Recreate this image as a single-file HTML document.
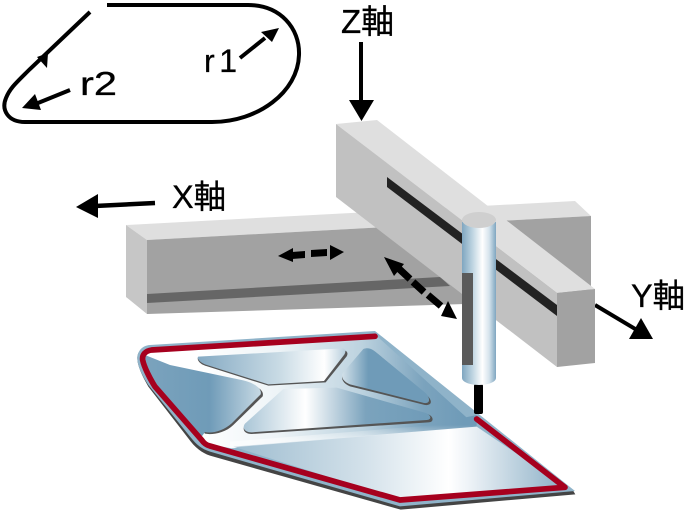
<!DOCTYPE html>
<html><head><meta charset="utf-8">
<style>html,body{margin:0;padding:0;background:#fff;width:690px;height:512px;overflow:hidden}svg{display:block}
text{font-family:"Liberation Sans","Noto Sans CJK JP",sans-serif;fill:#000;stroke:#000;stroke-width:.3}</style></head>
<body>
<svg width="690" height="512" viewBox="0 0 690 512" xmlns="http://www.w3.org/2000/svg">
<defs>
<linearGradient id="cyl" gradientUnits="userSpaceOnUse" x1="462" y1="0" x2="496" y2="0">
<stop offset="0" stop-color="#7fa6c0"/><stop offset=".3" stop-color="#bcd3e0"/><stop offset=".6" stop-color="#ffffff"/><stop offset=".8" stop-color="#d5e3ec"/><stop offset="1" stop-color="#7fa6c0"/></linearGradient>
<linearGradient id="plate" gradientUnits="userSpaceOnUse" x1="200" y1="0" x2="1000" y2="0">
<stop offset="0" stop-color="#ffffff"/><stop offset=".3" stop-color="#eef4f7"/><stop offset=".62" stop-color="#bcd2df"/><stop offset=".85" stop-color="#7ba3bd"/><stop offset="1" stop-color="#6f9bb8"/></linearGradient>
<linearGradient id="flat" gradientUnits="userSpaceOnUse" x1="310" y1="0" x2="1290" y2="0">
<stop offset="0" stop-color="#9dbccf"/><stop offset=".4" stop-color="#d3e1ea"/><stop offset=".66" stop-color="#ffffff"/><stop offset=".72" stop-color="#eef3f7"/><stop offset="1" stop-color="#8fb2c8"/></linearGradient>
<linearGradient id="fade" gradientUnits="userSpaceOnUse" x1="0" y1="300" x2="0" y2="345">
<stop offset="0" stop-color="#fff" stop-opacity="0"/><stop offset="1" stop-color="#fff" stop-opacity=".55"/></linearGradient>
<linearGradient id="p1" gradientUnits="userSpaceOnUse" x1="205" y1="0" x2="650" y2="0">
<stop offset="0" stop-color="#85aac3"/><stop offset=".55" stop-color="#c9dbe5"/><stop offset=".85" stop-color="#ffffff"/><stop offset="1" stop-color="#b4ccdb"/></linearGradient>
<linearGradient id="p2" gradientUnits="userSpaceOnUse" x1="635" y1="0" x2="900" y2="0">
<stop offset="0" stop-color="#d4e2ea"/><stop offset=".3" stop-color="#6f9bb8"/><stop offset="1" stop-color="#6f9bb8"/></linearGradient>
<linearGradient id="p3" gradientUnits="userSpaceOnUse" x1="40" y1="0" x2="400" y2="0">
<stop offset="0" stop-color="#7ba3bd"/><stop offset=".55" stop-color="#6f9bb8"/><stop offset="1" stop-color="#cbdce6"/></linearGradient>
<linearGradient id="p4" gradientUnits="userSpaceOnUse" x1="340" y1="0" x2="905" y2="0">
<stop offset="0" stop-color="#a9c5d6"/><stop offset=".33" stop-color="#ffffff"/><stop offset=".65" stop-color="#7ba3bd"/><stop offset="1" stop-color="#6f9bb8"/></linearGradient>
</defs>

<!-- track diagram -->
<path d="M107 5H248C280 5 300 28 299 55C298 92 258 122 212 122H25C8 122 1 110 6 98C10 88 16 83 30 69L90 12" fill="none" stroke="#000" stroke-width="4"/>
<polygon points="48,53 37,57 47,68" fill="#000"/>
<path d="M240 58L265 38" stroke="#000" stroke-width="4" fill="none"/>
<polygon points="279,28 272,42 261,32" fill="#000"/>
<path d="M70 90L38 103" stroke="#000" stroke-width="4" fill="none"/>
<polygon points="22,108 35,94 41,110" fill="#000"/>
<text x="204" y="72" font-size="32" textLength="33" lengthAdjust="spacing">r 1</text>
<text x="80" y="95" font-size="33" textLength="37" lengthAdjust="spacingAndGlyphs">r2</text>

<!-- axes -->
<text x="341" y="33" font-size="33">Z軸</text>
<text x="172" y="208" font-size="32.500">X軸</text>
<text x="631" y="307" font-size="32.500">Y軸</text>
<path d="M361 42V102" stroke="#000" stroke-width="4"/>
<polygon points="349,100 374,100 361.500,121" fill="#000"/>
<path d="M155 203L95 206" stroke="#000" stroke-width="4.500"/>
<polygon points="76,207 98,194 98,218" fill="#000"/>
<path d="M595 305L637 330" stroke="#000" stroke-width="4"/>
<polygon points="641,318 629,339 653,339" fill="#000"/>

<!-- X beam -->
<polygon points="126,225 575,201 591,216 147,240" fill="#dfdfdf"/>
<polygon points="126,225 147,240 147,314 126,297" fill="#c6c6c6"/>
<polygon points="147,240 591,216 591,300 147,314" fill="#a2a2a2"/>
<polygon points="147,294 440,277 450,286 147,303" fill="#666"/>

<!-- Z beam -->
<polygon points="336,124 377,120 595,289 557,293" fill="#dfdfdf"/>
<polygon points="336,124 557,293 557,367 336,197" fill="#c1c1c1"/>
<polygon points="557,293 595,289 595,363 557,367" fill="#a2a2a2"/>
<polygon points="387,177 557,305 557,316 387,187" fill="#222"/>

<!-- dashed arrows -->
<g fill="#000">
<polygon points="278,256 293,248 293,262"/>
<polygon points="292,252 305,251 305,258 292,259"/>
<polygon points="311,250 327,249 327,256 311,257"/>
<polygon points="330,245 344,252 330,260"/>
<polygon points="384,257 404,264 394,276"/>
<path d="M396 266L410 279M413 282L424 292M428 295L441 306" stroke="#000" stroke-width="7" fill="none"/>
<polygon points="457,319 441,316 448,301"/>
</g>

<!-- part -->
<g transform="translate(130 325) scale(.33333)">
<path d="M735 24L60 66C35 68 22 80 22 100C22 120 35 150 55 185L175 340C195 368 215 383 240 392L812 554L1336 508L1330 498Z" fill="#444"/>
<path d="M735 18L60 60C35 62 22 80 22 100C22 120 35 150 55 180L180 335C200 360 215 372 240 380L810 544L1335 498Z" fill="#8fb3c9"/>
<path d="M735 28L65 70C45 72 38 88 40 105C45 130 60 160 80 190L225 355L305 370L1040 305Z" fill="url(#plate)"/>
<polygon points="1040,270 1040,305 305,368 240,360 300,335 900,300" fill="url(#plate)"/>
<polygon points="310,365 1040,305 1310,487 810,524" fill="url(#flat)"/>
<polygon points="300,368 1040,305 1040,290 300,350" fill="url(#fade)"/>
<!-- pocket shadows -->
<g fill="#555">
<path d="M205 98L640 76C652 76 655 86 650 94L587 172L415 182L225 122C205 115 200 100 205 98Z"/>
<path d="M700 75C715 68 730 75 745 88L892 212C908 228 906 242 885 240L660 184C640 176 630 160 640 145Z"/>
<path d="M120 126L340 172C378 180 404 195 398 214L310 300C285 325 245 330 225 326L150 250L100 120Z"/>
<path d="M460 196L620 192L895 268C912 275 912 292 895 292L365 327C345 327 335 315 345 300Z"/>
</g>
<path d="M205 95L638 70C648 72 648 82 642 90L582 168L415 178L225 118C205 110 200 97 205 95Z" fill="url(#p1)"/>
<path d="M700 72C715 66 728 72 742 85L888 205C902 222 900 236 882 234L660 178C640 170 630 155 640 142Z" fill="url(#p2)"/>
<path d="M45 90L120 120L340 166C372 174 397 190 392 208L305 295C280 318 245 326 225 321L215 335L75 185L38 105Z" fill="url(#p3)"/>
<path d="M460 192L620 188L888 264C905 272 905 284 890 285L365 322C345 322 335 310 345 296Z" fill="url(#p4)"/>
<path d="M735 34L65 75C45 78 36 90 38 105C42 125 58 158 75 185L215 345C222 355 228 360 240 363L810 525L1305 487L1040 282" fill="none" stroke="#a6001e" stroke-width="17" stroke-linecap="round" stroke-linejoin="round"/>
</g>

<!-- cylinder & nozzle -->
<rect x="474" y="384" width="9" height="30" rx="2" fill="#000"/>
<path d="M462 222V378C462 382 470 385 479 385C488 385 496 382 496 378V222Z" fill="url(#cyl)"/>
<rect x="462" y="273" width="11" height="92" fill="#5a5a5a"/>
<ellipse cx="479" cy="220" rx="17" ry="8" fill="#cfcfcf"/>
</svg>
</body></html>
